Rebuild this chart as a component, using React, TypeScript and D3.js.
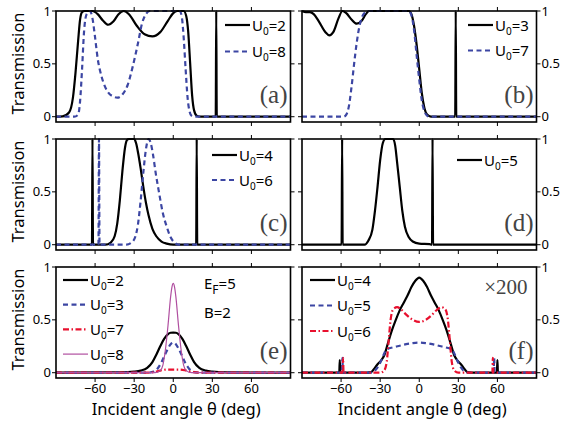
import React from "react";
import * as d3 from "d3";

type Pt = [number, number];

// ---------- data ----------
const xTicks = [-60, -30, 0, 30, 60];
const xTickLabels = ["\u221260", "\u221230", "0", "30", "60"];
const yTicks = [0, 0.5, 1];
const yTickLabels = ["0", "0.5", "1"];

const a_U2: Pt[] = [[-90,0],[-85,0.003],[-80,0.04],[-77,0.18],[-75,0.42],[-73,0.72],[-71.5,0.92],[-70,0.99],[-68,1],[-62,1],[-58,0.97],[-54,0.91],[-50,0.87],[-46,0.9],[-42,0.97],[-38,1],[-34,0.97],[-28,0.86],[-22,0.78],[-16,0.76],[-10,0.8],[-4,0.91],[0,0.98],[3,1],[8,1],[10,0.95],[11.5,0.8],[13,0.5],[14.5,0.2],[16,0.06],[18,0.01],[21,0],[32.6,0],[33,1],[33.4,0],[90,0]];
const a_U8: Pt[] = [[-90,0],[-76,0],[-73,0.02],[-71.5,0.15],[-70,0.45],[-68.5,0.8],[-66.5,0.97],[-64,1],[-62,0.93],[-60,0.75],[-58,0.55],[-55,0.38],[-51,0.25],[-46,0.19],[-43,0.18],[-39,0.21],[-35,0.3],[-31,0.48],[-27,0.7],[-24,0.88],[-21,0.97],[-18,1],[5,1],[6.5,0.95],[8,0.75],[9.5,0.45],[11,0.18],[12.5,0.05],[14,0.01],[16,0],[90,0]];

const b_U3: Pt[] = [[-90,1],[-87,0.99],[-84,0.99],[-81,0.97],[-77,0.9],[-72,0.8],[-69,0.77],[-66,0.8],[-62,0.93],[-59,1],[-56,0.98],[-52,0.92],[-48,0.88],[-44,0.91],[-41,0.97],[-38.5,1],[-8,1],[-6,0.97],[-4,0.86],[-2,0.68],[0,0.45],[2,0.22],[4,0.08],[6,0.02],[9,0],[27.6,0],[28,1],[28.4,0],[90,0]];
const b_U7: Pt[] = [[-90,0],[-58,0],[-56,0.02],[-54,0.1],[-52,0.28],[-50,0.5],[-48,0.7],[-46,0.85],[-44,0.94],[-42,0.98],[-39,1],[-8,1],[-6,0.96],[-4,0.82],[-2,0.58],[0,0.35],[2,0.15],[4,0.05],[6,0.01],[8,0],[90,0]];

const c_U4: Pt[] = [[-90,0],[-62.4,0],[-62,1],[-61.6,0],[-52,0],[-48,0.02],[-45,0.08],[-43,0.2],[-41,0.42],[-39,0.7],[-37,0.92],[-35.5,0.99],[-34,1],[-30,1],[-28.5,0.96],[-27,0.87],[-25,0.72],[-23,0.55],[-21,0.4],[-19,0.28],[-16,0.15],[-13,0.08],[-9,0.03],[-5,0.01],[0,0],[17.6,0],[18,1],[18.4,0],[90,0]];
const c_U6: Pt[] = [[-90,0],[-57.4,0],[-57,1],[-56.6,0],[-36,0],[-32,0.02],[-29,0.08],[-27,0.2],[-25,0.42],[-23,0.68],[-21,0.9],[-19,1],[-17.5,0.97],[-15.5,0.85],[-13.5,0.68],[-11,0.5],[-8,0.3],[-5,0.17],[-2,0.07],[1,0.02],[4,0],[90,0]];

const d_U5: Pt[] = [[-90,0],[-59.6,0],[-59.2,1],[-58.8,0],[-42,0],[-39,0.04],[-36,0.14],[-34,0.32],[-32,0.55],[-30,0.8],[-28,0.96],[-26,1],[-20,1],[-18.5,0.94],[-17,0.78],[-15,0.55],[-13,0.32],[-11,0.17],[-8,0.07],[-5,0.03],[0,0.01],[8,0.005],[9.8,0],[10.2,1],[10.6,0],[90,0]];

const e_U2: Pt[] = [[-90,0],[-40,0.003],[-30,0.01],[-25,0.02],[-20,0.045],[-16,0.1],[-13,0.17],[-10,0.25],[-7,0.32],[-4,0.365],[-2,0.378],[0,0.38],[2,0.378],[4,0.365],[7,0.32],[10,0.25],[13,0.17],[16,0.1],[20,0.045],[25,0.02],[30,0.01],[40,0.003],[90,0]];
const e_U3: Pt[] = [[-90,0],[-20,0],[-15,0.01],[-12,0.04],[-9,0.1],[-6,0.18],[-4,0.23],[-2,0.27],[0,0.285],[2,0.27],[4,0.23],[6,0.18],[9,0.1],[12,0.04],[15,0.01],[20,0],[90,0]];
const e_U7: Pt[] = [[-90,0],[-20,0],[-15,0.005],[-10,0.02],[-5,0.03],[0,0.03],[5,0.03],[10,0.02],[15,0.005],[20,0],[90,0]];
const e_U8: Pt[] = [[-90,0],[-14,0],[-10,0.02],[-8,0.07],[-6,0.22],[-4,0.45],[-2,0.72],[-1,0.81],[0,0.845],[1,0.81],[2,0.72],[4,0.45],[6,0.22],[8,0.07],[10,0.02],[14,0],[90,0]];

const f_U4: Pt[] = [[-90,0],[-61.4,0],[-61,0.12],[-60.6,0],[-40,0],[-37,0.005],[-35,0.03],[-32,0.08],[-29,0.12],[-27,0.16],[-24,0.28],[-21,0.4],[-18,0.5],[-15,0.59],[-12,0.66],[-9,0.73],[-6,0.81],[-3,0.87],[0,0.9],[3,0.87],[6,0.81],[9,0.73],[12,0.66],[15,0.59],[18,0.5],[21,0.4],[24,0.28],[27,0.16],[29,0.12],[32,0.08],[35,0.03],[37,0.005],[40,0],[59.6,0],[60,0.12],[60.4,0],[90,0]];
const f_U5: Pt[] = [[-90,0],[-59.4,0],[-59,0.14],[-58.6,0],[-38,0],[-35,0.01],[-32,0.05],[-29,0.12],[-27,0.18],[-25,0.22],[-20,0.24],[-15,0.255],[-10,0.27],[-5,0.28],[0,0.285],[5,0.28],[10,0.27],[15,0.255],[20,0.24],[25,0.22],[27,0.18],[29,0.12],[32,0.05],[35,0.01],[38,0],[57.1,0],[57.5,0.14],[57.9,0],[90,0]];
const f_U6: Pt[] = [[-90,0],[-58.9,0],[-58.5,0.14],[-58.1,0],[-30,0],[-27,0.02],[-25,0.1],[-23.5,0.3],[-22,0.5],[-20,0.6],[-17,0.62],[-14,0.6],[-10,0.55],[-5,0.5],[0,0.48],[5,0.5],[10,0.55],[14,0.6],[17,0.62],[20,0.6],[22,0.5],[23.5,0.3],[25,0.1],[27,0.02],[30,0],[56.1,0],[56.5,0.14],[56.9,0],[90,0]];

// ---------- styles ----------
const BLACK = "#000000";
const BLUE = "#3c46a3";
const RED = "#e8102e";
const PURPLE = "#b04fa0";
const SANS = "'Noto Sans', 'Open Sans', sans-serif";
const SERIF = "'Liberation Serif', 'DejaVu Serif', serif";

type Series = { u: string; data: Pt[]; color: string; dash?: string; width: number };
type Panel = {
  id: string; col: number; row: number; series: Series[];
  legX: number; legY: number; legDy: number;
};

const solid = (u: string, data: Pt[]): Series => ({ u, data, color: BLACK, width: 2.2 });
const dashed = (u: string, data: Pt[]): Series => ({ u, data, color: BLUE, dash: "5,3.5", width: 2.2 });
const dashdot = (u: string, data: Pt[]): Series => ({ u, data, color: RED, dash: "6,2.5,1.5,2.5", width: 2.2 });
const thin = (u: string, data: Pt[]): Series => ({ u, data, color: PURPLE, width: 1.2 });

const panels: Panel[] = [
  { id: "a", col: 0, row: 0, series: [solid("2", a_U2), dashed("8", a_U8)], legX: 169, legY: 14, legDy: 26.5 },
  { id: "b", col: 1, row: 0, series: [solid("3", b_U3), dashed("7", b_U7)], legX: 166, legY: 14, legDy: 25.5 },
  { id: "c", col: 0, row: 1, series: [solid("4", c_U4), dashed("6", c_U6)], legX: 156, legY: 16, legDy: 25 },
  { id: "d", col: 1, row: 1, series: [solid("5", d_U5)], legX: 155, legY: 21, legDy: 25 },
  { id: "e", col: 0, row: 2, series: [solid("2", e_U2), dashed("3", e_U3), dashdot("7", e_U7), thin("8", e_U8)], legX: 7, legY: 13, legDy: 24.7 },
  { id: "f", col: 1, row: 2, series: [solid("4", f_U4), dashed("5", f_U5), dashdot("6", f_U6)], legX: 8, legY: 13, legDy: 25.5 },
];

const COL_X = [56, 302];
const ROW_Y = [11, 139, 267];
const PW = 234.5;
const PH = 111;
const TICK = 4;

function PanelView({ p }: { p: Panel }) {
  const x0 = COL_X[p.col];
  const y0 = ROW_Y[p.row];
  const xs = d3.scaleLinear().domain([-90, 90]).range([x0, x0 + PW]);
  const ys = d3.scaleLinear().domain([-0.05, 1]).range([y0 + PH, y0]);
  const line = d3.line<Pt>().x(d => xs(d[0])).y(d => ys(d[1])).curve(d3.curveMonotoneX);
  const clipId = `clip-${p.id}`;
  const bottomRow = p.row === 2;
  const leftCol = p.col === 0;
  return (
    <g>
      <defs>
        <clipPath id={clipId}>
          <rect x={x0} y={y0 - 1.5} width={PW} height={PH + 1.5} />
        </clipPath>
      </defs>
      {/* ticks */}
      {xTicks.map(t => (
        <g key={`xt${t}`} stroke="#000" strokeWidth={1}>
          <line x1={xs(t)} x2={xs(t)} y1={y0 + PH} y2={y0 + PH + TICK} />
          <line x1={xs(t)} x2={xs(t)} y1={y0} y2={y0 - TICK} />
        </g>
      ))}
      {yTicks.map(t => (
        <g key={`yt${t}`} stroke="#000" strokeWidth={1}>
          <line x1={x0} x2={x0 - TICK} y1={ys(t)} y2={ys(t)} />
          <line x1={x0 + PW} x2={x0 + PW + TICK} y1={ys(t)} y2={ys(t)} />
        </g>
      ))}
      {/* y tick labels */}
      {yTicks.map((t, i) => (
        <text key={`yl${t}`} x={leftCol ? x0 - 5 : x0 + PW + 5} y={ys(t)} dy="0.35em"
          textAnchor={leftCol ? "end" : "start"} fontFamily={SANS} fontSize={13} fill="#000">
          {yTickLabels[i]}
        </text>
      ))}
      {bottomRow && xTicks.map((t, i) => (
        <text key={`xl${t}`} x={xs(t)} y={y0 + PH + 15} textAnchor="middle" fontFamily={SANS} fontSize={13} fill="#000">
          {xTickLabels[i]}
        </text>
      ))}
      {/* data */}
      <g clipPath={`url(#${clipId})`}>
        {p.series.map((s, i) => (
          <path key={i} d={line(s.data) || ""} fill="none" stroke={s.color} strokeWidth={s.width}
            strokeDasharray={s.dash} strokeLinejoin="round" />
        ))}
      </g>
      {/* box */}
      <rect x={x0} y={y0} width={PW} height={PH} fill="none" stroke="#000" strokeWidth={1.6} />
      {/* legend */}
      {p.series.map((s, i) => {
        const ly = y0 + p.legY + i * p.legDy;
        const lx = x0 + p.legX;
        return (
          <g key={`lg${i}`}>
            <line x1={lx} x2={lx + 25} y1={ly} y2={ly} stroke={s.color} strokeWidth={s.width}
              strokeDasharray={s.dash} />
            <text x={lx + 27} y={ly + 5.5} fontFamily={SANS} fontSize={15} fill="#000">
              U<tspan fontSize={10} dy={4}>0</tspan><tspan dy={-4}>={s.u}</tspan>
            </text>
          </g>
        );
      })}
      {/* panel label */}
      <text x={x0 + PW - 3} y={y0 + PH - 19} textAnchor="end" fontFamily={SERIF} fontSize={25} fill="#444">
        ({p.id})
      </text>
      {p.id === "e" && (
        <g fontFamily={SANS} fontSize={15} fill="#000">
          <text x={204} y={y0 + 22}>E<tspan fontSize={12} dy={5}>F</tspan><tspan dy={-5}>=5</tspan></text>
          <text x={204} y={y0 + 51}>B=2</text>
        </g>
      )}
      {p.id === "f" && (
        <text x={x0 + PW - 9} y={y0 + 27} textAnchor="end" fontFamily={SERIF} fontSize={21} fill="#444">
          {"\u00d7200"}
        </text>
      )}
      {leftCol && (
        <text transform={`translate(${x0 - 32},${y0 + PH / 2 - 3}) rotate(-90)`} textAnchor="middle"
          fontFamily={SANS} fontSize={16.5} fill="#000">
          Transmission
        </text>
      )}
      {bottomRow && (
        <text x={x0 + PW / 2 + 3} y={y0 + PH + 37} textAnchor="middle" fontFamily={SANS} fontSize={16.5} fill="#000">
          Incident angle  θ (deg)
        </text>
      )}
    </g>
  );
}

export default function App() {
  return (
    <svg width={574} height={426} style={{ position: "absolute", left: 0, top: 0, background: "#fff" }}>
      <rect x={0} y={0} width={574} height={426} fill="#fff" />
      {panels.map(p => <PanelView key={p.id} p={p} />)}
    </svg>
  );
}
